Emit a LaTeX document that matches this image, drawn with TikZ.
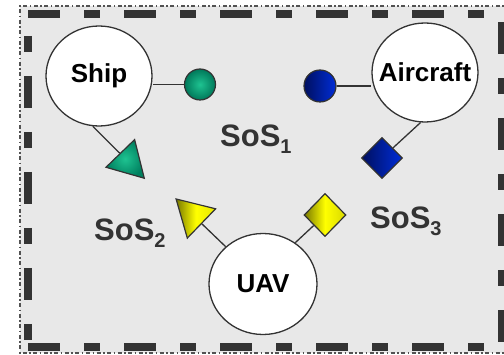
\documentclass[tikz,border=0pt]{standalone}
\usepackage{fontspec}
\setmainfont{Liberation Sans}
\usetikzlibrary{shapes.geometric}

\definecolor{framegrey}{RGB}{51,51,51}
\definecolor{bggrey}{RGB}{232,232,232}
\definecolor{sosgreen}{RGB}{0,150,112}
\definecolor{soslight}{RGB}{30,195,145}
\definecolor{sosblue}{RGB}{0,45,215}
\definecolor{sosnavy}{RGB}{0,15,95}
\definecolor{sosolive}{RGB}{120,120,0}
\definecolor{sosyellow}{RGB}{255,255,0}

\newcommand{\sosidx}[1]{\raisebox{-7pt}{\fontsize{20}{24}\selectfont #1}}

\begin{document}
\begin{tikzpicture}[x=1pt, y=-1pt,
  system/.style={ellipse, draw=framegrey, line width=1.3pt, fill=white,
                 minimum width=106pt, minimum height=100pt, inner sep=0pt,
                 font=\fontsize{26}{30}\selectfont\bfseries},
  marker/.style={circle, draw=framegrey, line width=1.2pt, minimum size=31pt, inner sep=0pt},
  tri/.style={regular polygon, regular polygon sides=3, draw=framegrey, line width=1.2pt,
              minimum size=46pt, inner sep=0pt},
  dia/.style={diamond, draw=framegrey, line width=1.2pt, minimum width=41pt,
              minimum height=41pt, inner sep=0pt},
  link/.style={draw=framegrey, line width=1.3pt},
  thickdash/.style={draw=framegrey, line width=8pt,
                    dash pattern=on 32pt off 24pt on 16pt off 24pt},
  soslabel/.style={anchor=base west, inner sep=0pt, text=framegrey,
                   font=\fontsize{31}{36}\selectfont\bfseries}
]
\useasboundingbox (0,0) rectangle (504,355);

% Background
\fill[bggrey] (20,6) rectangle (504,353);
\draw[framegrey!85, line width=1.3pt, dash pattern=on 4pt off 2.5pt on 1.5pt off 2.5pt]
  (510,6) -- (20,6) -- (20,353) -- (510,353);

% Frame
\draw[thickdash] (28,14) -- (502,14);
\draw[thickdash] (28,347) -- (502,347);
\draw[thickdash, dash phase=34pt] (28,14) -- (28,347);
\draw[thickdash, dash phase=88pt] (502,14) -- (502,347);

% Systems
\node[system] (ship) at (99,76) {\makebox[0pt]{Ship}};
\node[system, minimum height=99pt] (aircraft) at (425,72.5)
  {\makebox[0pt]{\raisebox{-3pt}{Aircraft}}};
\node[system, minimum width=108pt, minimum height=101pt] (uav) at (263,284)
  {\makebox[0pt]{\raisebox{-3pt}{UAV}}};

% Interfaces
\node[marker, inner color=soslight, outer color=sosgreen!80!black] (shipdot) at (200,84.5) {};
\node[marker, minimum size=32pt, left color=sosnavy, right color=sosblue] (aircraftdot)
  at (320,86) {};
\node[tri, shape border rotate=-136, inner color=soslight, outer color=sosgreen!85!black]
  (shiptri) at (128.3,161.7) {};
\node[tri, shape border rotate=46, minimum size=47pt, left color=sosolive,
      right color=sosyellow!90!black, middle color=sosyellow] (uavtri) at (193,215.3) {};
\node[dia, left color=sosnavy, right color=sosblue] (aircraftdia) at (382,158) {};
\node[dia, minimum width=42pt, minimum height=43pt, left color=sosolive,
      right color=sosyellow!85!black, middle color=sosyellow] (uavdia) at (325,215) {};

% Links
\draw[link] (shipdot.west) -- (shipdot.west -| ship.east);
\draw[link] (ship.-97) -- (shiptri);
\draw[link] (aircraftdot.east) -- (aircraftdot.east -| aircraft.west);
\draw[link] (aircraft.-95) -- (aircraftdia);
\draw[link] (uav.135) -- (uavtri);
\draw[link] (uav.52) -- (uavdia);

% SoS labels
\node[soslabel] (sos1) at (220,147) {SoS\sosidx{1}};
\node[soslabel] (sos2) at (94,240.5) {SoS\sosidx{2}};
\node[soslabel] (sos3) at (370,229) {SoS\sosidx{3}};

\end{tikzpicture}
\end{document}
